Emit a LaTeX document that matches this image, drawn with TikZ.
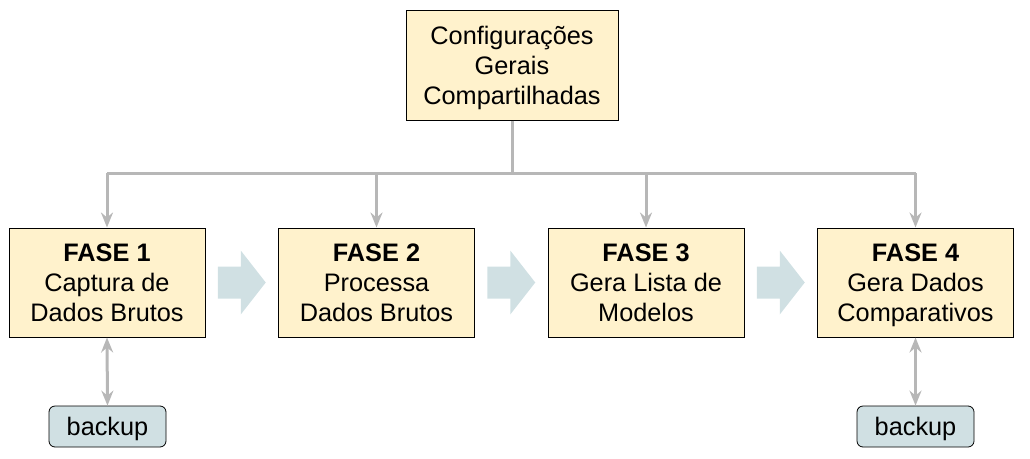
\documentclass[tikz,border=0pt]{standalone}
\usepackage{fontspec}
\setmainfont{Liberation Sans}
\usetikzlibrary{arrows.meta,calc}
\definecolor{boxfill}{HTML}{FFF2CC}
\definecolor{bkfill}{HTML}{D0E0E3}
\definecolor{linegray}{HTML}{B7B7B7}
\newcommand\lnstrut{\rule[-6pt]{0pt}{30pt}}
\begin{document}
\begin{tikzpicture}[x=1pt,y=-1pt,
  phase/.style={draw=black,line width=1pt,fill=boxfill,minimum width=196pt,minimum height=109pt,
    align=center,inner sep=0pt,font=\fontsize{25.3}{30}\selectfont},
  bkbox/.style={draw=black,line width=0.8pt,fill=bkfill,rounded corners=6pt,minimum width=117pt,
    minimum height=41pt,inner sep=0pt,font=\fontsize{25.3}{30}\selectfont},
  conn/.style={draw=linegray,line width=3pt},
  tipb/.style={-{Stealth[length=15pt,width=12pt,inset=5pt]}},
  tipbb/.style={{Stealth[length=15pt,width=12pt,inset=5pt]}-{Stealth[length=15pt,width=12pt,inset=5pt]}},
  bigarrow/.style={fill=bkfill,draw=none}]
\useasboundingbox (0,0) rectangle (1030,458);
\node[phase,minimum width=212pt,minimum height=110pt] (cfg) at (512,65) {\lnstrut Configurações\\\lnstrut Gerais\\\lnstrut Compartilhadas};
\node[phase] (f1) at (107,282.5) {\lnstrut\textbf{FASE 1}\\\lnstrut Captura de\\\lnstrut Dados Brutos};
\node[phase] (f2) at (376.5,282.5) {\lnstrut\textbf{FASE 2}\\\lnstrut Processa\\\lnstrut Dados Brutos};
\node[phase] (f3) at (646,282.5) {\lnstrut\textbf{FASE 3}\\\lnstrut Gera Lista de\\\lnstrut Modelos};
\node[phase] (f4) at (915.5,282.5) {\lnstrut\textbf{FASE 4}\\\lnstrut Gera Dados\\\lnstrut Comparativos};
\node[bkbox] (b1) at (107.5,426.5) {\lnstrut backup};
\node[bkbox] (b4) at (915.5,426.5) {\lnstrut backup};
\coordinate (hub) at (512,173);
\draw[conn] (cfg.south) -- (hub);
\draw[conn] (f1.north |- hub) -- (f4.north |- hub);
\foreach \f in {f1,f2,f3,f4}{
  \draw[conn,tipb] (\f.north |- hub) -- (\f.north);
}
\draw[conn,tipbb] (f1.south) -- (b1.north);
\draw[conn,tipbb] (f4.south) -- (b4.north);
\foreach \a/\b [count=\i] in {f1/f2,f2/f3,f3/f4}{
  \path ($(\a.east)!0.5!(\b.west)$) coordinate (m\i);
}
\foreach \i in {1,2,3}{
  \fill[bigarrow] ([shift={(-24,-16)}]m\i) -- ++(23,0) -- ++(0,-16) -- ++(25,32) -- ++(-25,32) -- ++(0,-16) -- ++(-23,0) -- cycle;
}
\end{tikzpicture}
\end{document}
